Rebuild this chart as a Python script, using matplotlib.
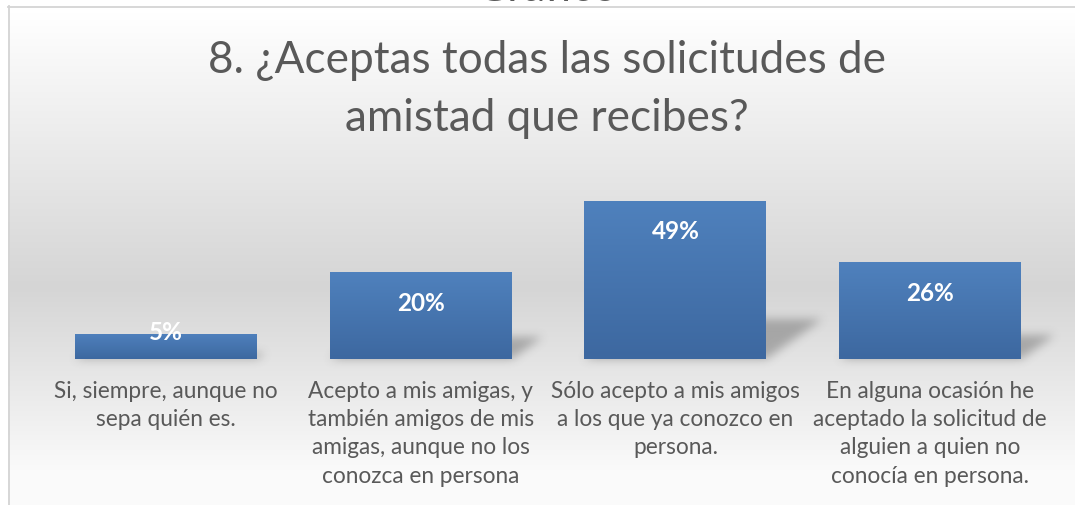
"""Bar chart: ¿Aceptas todas las solicitudes de amistad que recibes?"""
import matplotlib
matplotlib.use("Agg")
import matplotlib.pyplot as plt
import numpy as np
from matplotlib.colors import to_rgb
from matplotlib.path import Path

categories = [
    "Si, siempre, aunque no\nsepa quién es.",
    "Acepto a mis amigas, y\ntambién amigos de mis\namigas, aunque no los\nconozca en persona",
    "Sólo acepto a mis amigos\na los que ya conozco en\npersona.",
    "En alguna ocasión he\naceptado la solicitud de\nalguien a quien no\nconocía en persona.",
]
counts = [5, 17, 31, 19]                 # bar heights
pct_labels = ["5%", "20%", "49%", "26%"]  # data labels as printed
title_lines = ["8. ¿Aceptas todas las solicitudes de", "amistad que recibes?"]

W, H, DPI = 1075, 506, 100
FONT = "Lato"
TXT = "#595959"

fig = plt.figure(figsize=(W / DPI, H / DPI), dpi=DPI, facecolor="white")
renderer = fig.canvas.get_renderer()


def fit_width(t, target_px):
    """scale a text's fontsize so its rendered width hits target_px"""
    w = t.get_window_extent(renderer).width
    t.set_fontsize(t.get_fontsize() * target_px / w)


# ---- background: chart area gradient + frame ----
bg = fig.add_axes([0, 0, 1, 1], zorder=0)
bg.set_xlim(0, W)
bg.set_ylim(0, H)
bg.axis("off")

rows = np.arange(H)  # top-down pixel rows
grey = np.interp(rows, [7, 285, 470, 506], [255, 213, 250, 251]) / 255.0
grad = np.repeat(grey[:, None, None], 3, axis=2)
bg.imshow(grad, extent=[8, W + 2, 0, H - 7], origin="upper", aspect="auto",
          interpolation="bilinear", zorder=0)
bg.plot([8.5, 8.5], [0, H - 7], color="#d4d4d4", lw=1.3, zorder=1)
bg.plot([8, W], [H - 7.5, H - 7.5], color="#d4d4d4", lw=1.3, zorder=1)

# ---- bars ----
ax = fig.add_axes([38.7 / W, 146 / H, 1018.7 / W, 190 / H], zorder=2)
ax.patch.set_alpha(0)
x = np.arange(len(counts))
bars = ax.bar(x, counts, width=0.7146, color="#4a7ab4", zorder=2)
ax.set_xlim(-0.5, len(counts) - 0.5)
ax.set_ylim(0, 190 / 5.1)
for s in ax.spines.values():
    s.set_visible(False)
ax.set_yticks([])

# vertical gradient fill on each bar
top_c, bot_c = np.array(to_rgb("#4f81bd")), np.array(to_rgb("#3d68a0"))
ramp = np.linspace(0, 1, 64)[:, None, None]
bar_grad = top_c * (1 - ramp) + bot_c * ramp
for p in bars:
    im = ax.imshow(bar_grad, extent=[p.get_x(), p.get_x() + p.get_width(), 0, p.get_height()],
                   origin="upper", aspect="auto", interpolation="bilinear", zorder=3)
    im.set_clip_path(p)

# perspective shadow behind the bars, blurred in pixel space
yy, xx = np.mgrid[0:H, 0:W] + 0.5
pts = np.column_stack([xx.ravel(), yy.ravel()])
mask = np.zeros(H * W, dtype=bool)
for p in bars:
    (L, B), (R, T) = ax.transData.transform([(p.get_x(), 0),
                                             (p.get_x() + p.get_width(), p.get_height())])
    hp = T - B
    poly = [(L, B), (R, B), (R + 0.35 * hp, B + 0.25 * hp), (L + 0.35 * hp, B + 0.25 * hp)]
    mask |= Path(poly).contains_points(pts)
shadow = mask.reshape(H, W).astype(float)


def box_blur(a, r):
    k = np.ones(2 * r + 1) / (2 * r + 1)
    a = np.apply_along_axis(lambda v: np.convolve(v, k, mode="same"), 0, a)
    return np.apply_along_axis(lambda v: np.convolve(v, k, mode="same"), 1, a)


for _ in range(3):
    shadow = box_blur(shadow, 4)
sh_img = np.zeros((H, W, 4))
sh_img[..., :3] = 0.35
sh_img[..., 3] = 0.42 * shadow
bg.imshow(sh_img, extent=[0, W, 0, H], origin="lower", aspect="auto", zorder=2)

# data labels
for p, lab in zip(bars, pct_labels):
    hp = p.get_height() * 5.1
    off = -30 if hp > 60 else 2.5
    ax.annotate(lab, (p.get_x() + p.get_width() / 2, p.get_height()),
                xytext=(0, off * 72 / DPI), textcoords="offset points",
                ha="center", va="center", color="white", fontweight="bold",
                fontsize=17.5, family=FONT, zorder=5)

# category labels
ax.set_xticks(x)
ax.set_xticklabels(categories, fontsize=16.3, color=TXT, family=FONT, linespacing=1.43)
ax.tick_params(axis="x", length=0, pad=15)

# title
t1 = fig.text(547, H - 73, title_lines[0], transform=None, ha="center", va="baseline",
              color=TXT, fontsize=32, family=FONT)
fit_width(t1, 680)
fig.text(547, H - 131, title_lines[1], transform=None, ha="center", va="baseline",
         color=TXT, fontsize=t1.get_fontsize(), family=FONT)
# title of the chart above, cut off by the crop
fig.text(547, H - 1, "Gráfico", transform=None, ha="center", va="baseline",
         color=TXT, fontsize=t1.get_fontsize(), family=FONT)

fig.savefig("out.png", dpi=DPI)
